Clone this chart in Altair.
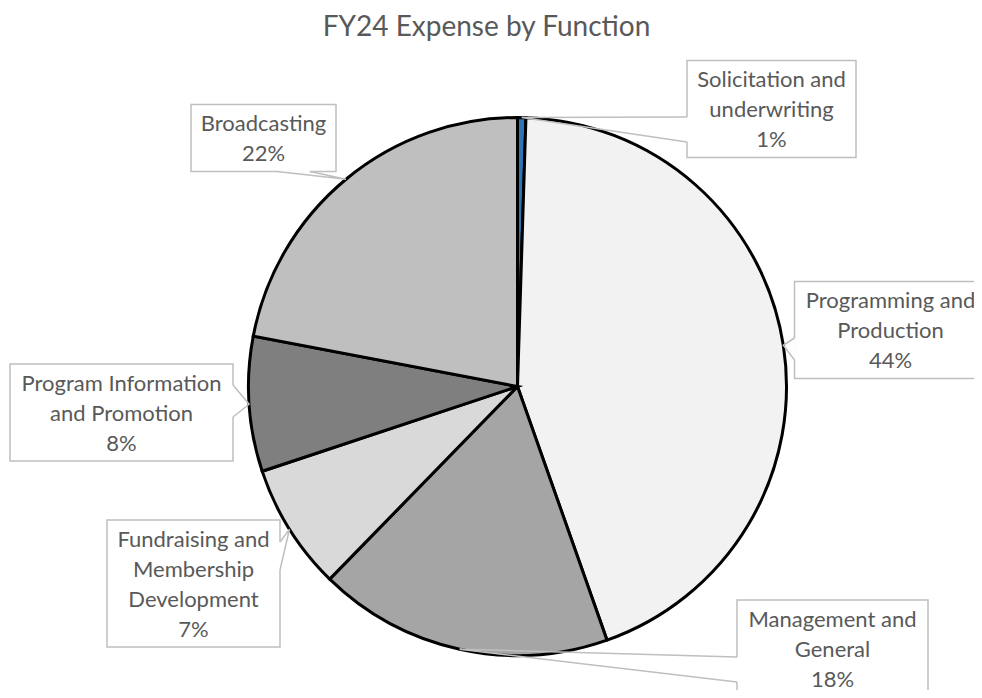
import altair as alt
import pandas as pd
import numpy as np

# ---------------- data ----------------
categories = [
    "Solicitation and underwriting",
    "Programming and Production",
    "Management and General",
    "Fundraising and Membership Development",
    "Program Information and Promotion",
    "Broadcasting",
]
values = [0.5, 44.1, 17.7, 7.6, 8.1, 22.0]
pct_labels = ["1%", "44%", "18%", "7%", "8%", "22%"]
name_lines = [
    ["Solicitation and", "underwriting"],
    ["Programming and", "Production"],
    ["Management and", "General"],
    ["Fundraising and", "Membership", "Development"],
    ["Program Information", "and Promotion"],
    ["Broadcasting"],
]
colors = ["#2e75b6", "#f2f2f2", "#a5a5a5", "#d9d9d9", "#7f7f7f", "#bfbfbf"]

# ---------------- layout (page pixels) ----------------
W, H, PAD_TOP = 966, 642, 40
X0, Y0 = 8, 8 + PAD_TOP          # page position of the view origin
CX, CY, R = 517.5, 386.5, 269    # pie centre and radius
box_dx = [254, 373, 315, -324, -396, -254]
box_dy = [-277.5, -56.5, 262, 197, 26, -248.5]
box_w = [169, 192, 191, 173, 223, 145]
wedge_side = ["left", "left", "left", "right", "right", "bottom"]
wedge_a = [8, 8, 8.5, -41.5, -27.5, 13.5]
wedge_b = [33, 30, 33.5, -13.5, 4.5, 46.5]
LINE_H = 30
FONT = "Lato"
TXT = "#595959"
BORDER = "#bfbfbf"

# ---------------- derived tables ----------------
total = float(sum(values))
vals = np.array(values, dtype=float)
cum = np.cumsum(vals)
mid = (cum - vals / 2) / total * 2 * np.pi
anchor_x = CX + R * np.sin(mid)
anchor_y = CY - R * np.cos(mid)

pie_df = pd.DataFrame({"category": categories, "value": values, "idx": range(len(values))})

box_rows, gap_rows, wedge_rows, text_rows = [], [], [], []
for i, cat in enumerate(categories):
    lines = name_lines[i] + [pct_labels[i]]
    n = len(lines)
    bh = LINE_H * n + 7
    bcx, bcy = CX + box_dx[i], CY + box_dy[i]
    x1, x2 = bcx - box_w[i] / 2, bcx + box_w[i] / 2
    y1, y2 = bcy - bh / 2, bcy + bh / 2
    box_rows.append({"category": cat, "x1": x1, "x2": x2, "y1": y1, "y2": y2})
    if wedge_side[i] == "left":
        p1 = (x1, bcy + wedge_a[i]); p2 = (x1, bcy + wedge_b[i])
    elif wedge_side[i] == "right":
        p1 = (x2, bcy + wedge_a[i]); p2 = (x2, bcy + wedge_b[i])
    else:
        p1 = (bcx + wedge_a[i], y2); p2 = (bcx + wedge_b[i], y2)
    gap_rows.append({"category": cat, "x1": p1[0], "y1": p1[1], "x2": p2[0], "y2": p2[1]})
    for k, (px, py) in enumerate([p1, (anchor_x[i], anchor_y[i]), p2]):
        wedge_rows.append({"category": cat, "k": k, "x": px, "y": py})
    for j, t in enumerate(lines):
        text_rows.append({"category": cat, "t": t, "x": bcx,
                          "y": bcy + (j - (n - 1) / 2) * LINE_H + 1})

box_df = pd.DataFrame(box_rows)
gap_df = pd.DataFrame(gap_rows)
wedge_df = pd.DataFrame(wedge_rows)
text_df = pd.DataFrame(text_rows)

xs = alt.Scale(domain=[X0, X0 + W], nice=False, zero=False)
ys = alt.Scale(domain=[Y0, Y0 + H], nice=False, zero=False, reverse=True)

pie = alt.Chart(pie_df).mark_arc(outerRadius=R, stroke="black", strokeWidth=3).encode(
    theta=alt.Theta("value:Q", stack=True),
    order=alt.Order("idx:Q"),
    color=alt.Color("category:N", scale=alt.Scale(domain=categories, range=colors), legend=None),
    x=alt.value(CX - X0),
    y=alt.value(CY - Y0),
)

boxes = alt.Chart(box_df).mark_rect(fill="white", stroke=BORDER, strokeWidth=1.5).encode(
    x=alt.X("x1:Q", scale=xs, axis=None), x2="x2:Q",
    y=alt.Y("y1:Q", scale=ys, axis=None), y2="y2:Q",
)

gaps = alt.Chart(gap_df).mark_rule(color="white", strokeWidth=2.5).encode(
    x=alt.X("x1:Q", scale=xs, axis=None), x2="x2:Q",
    y=alt.Y("y1:Q", scale=ys, axis=None), y2="y2:Q",
)

wedges = alt.Chart(wedge_df).mark_line(color=BORDER, strokeWidth=1.5).encode(
    x=alt.X("x:Q", scale=xs, axis=None),
    y=alt.Y("y:Q", scale=ys, axis=None),
    detail="category:N",
    order="k:Q",
)

texts = alt.Chart(text_df).mark_text(font=FONT, fontSize=22, color=TXT,
                                     align="center", baseline="middle").encode(
    x=alt.X("x:Q", scale=xs, axis=None),
    y=alt.Y("y:Q", scale=ys, axis=None),
    text="t:N",
)

chart = alt.layer(pie, boxes, gaps, wedges, texts).properties(
    width=W, height=H,
    background="white",
    title=alt.TitleParams("FY24 Expense by Function", font=FONT, fontSize=28,
                          fontWeight="normal", color=TXT, anchor="middle",
                          dx=486.5 - (X0 + W / 2), offset=6),
    autosize=alt.AutoSizeParams(type="none"),
    padding={"left": 0, "top": PAD_TOP, "right": 0, "bottom": 0},
).configure_view(strokeWidth=0, stroke=None)

chart.save("out.html", embed_options={"renderer": "svg", "actions": False})
